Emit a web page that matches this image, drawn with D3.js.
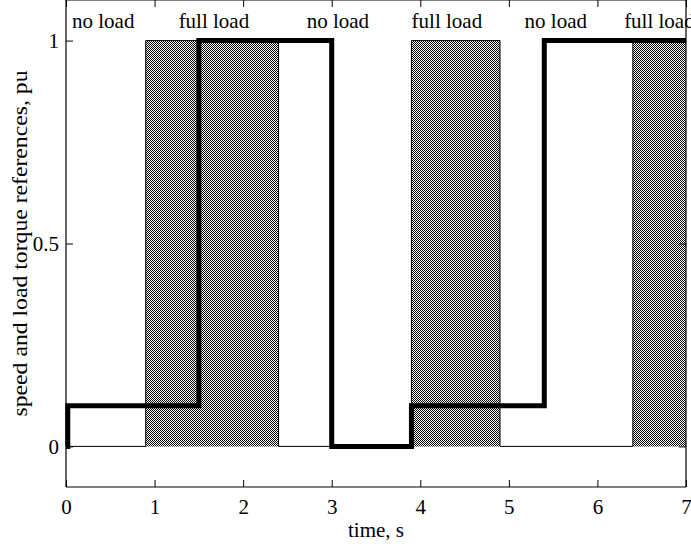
<!DOCTYPE html>
<html><head><meta charset="utf-8">
<script src="https://cdn.jsdelivr.net/npm/d3@7"></script>
<style>body{margin:0;background:#fff}svg{display:block}text{font-family:"Liberation Serif","DejaVu Serif",serif;fill:#000}</style>
</head><body>
<script>
// Data
const loadTimes = [0, 0.9, 2.4, 3.9, 4.9, 6.4, 7];
const loadValues = [0, 1, 0, 1, 0, 1, 1];
const speedTimes = [0, 0.02, 1.5, 3.0, 3.9, 5.4, 7];
const speedValues = [0, 0.1, 1, 0, 0.1, 1, 1];
const labelTexts = ["no load", "full load", "no load", "full load", "no load", "full load"];
const labelTimes = [0.42, 1.67, 3.07, 4.3, 5.53, 6.70];
const xTicks = [0, 1, 2, 3, 4, 5, 6, 7];
const yTicks = [0, 0.5, 1];

const W = 691, H = 548;
const FS = "21px";
const m = {left: 66, right: 5, top: 0, bottom: 61};
const svg = d3.select("body").append("svg").attr("width", W).attr("height", H);
const x = d3.scaleLinear().domain([0, 7]).range([m.left, W - m.right]);
const y = d3.scaleLinear().domain([-0.1, 1.1]).range([H - m.bottom, m.top]);

const defs = svg.append("defs");
const pat = defs.append("pattern").attr("id", "chk").attr("patternUnits", "userSpaceOnUse")
  .attr("width", 2).attr("height", 2);
pat.append("rect").attr("width", 2).attr("height", 2).attr("fill", "#fff");
pat.append("rect").attr("x", 0).attr("y", 0).attr("width", 1).attr("height", 1).attr("fill", "#000");
pat.append("rect").attr("x", 1).attr("y", 1).attr("width", 1).attr("height", 1).attr("fill", "#000");

const loadPts = loadTimes.map((t, i) => [t, loadValues[i]]);
const speedPts = speedTimes.map((t, i) => [t, speedValues[i]]);

const area = d3.area().curve(d3.curveStepAfter).x(d => x(d[0])).y0(y(0)).y1(d => y(d[1]));
svg.append("path").datum(loadPts).attr("d", area).attr("fill", "url(#chk)");
const line = d3.line().curve(d3.curveStepAfter).x(d => x(d[0])).y(d => y(d[1]));
svg.append("path").datum(loadPts).attr("d", line).attr("fill", "none").attr("stroke", "#000").attr("stroke-width", 1);
svg.append("path").datum(speedPts).attr("d", line).attr("fill", "none").attr("stroke", "#000").attr("stroke-width", 5).attr("stroke-linejoin", "miter");

// axes
const tl = 7;
const gB = svg.append("g").attr("transform", `translate(0,${y(-0.1)})`)
  .call(d3.axisBottom(x).tickValues(xTicks).tickSize(-tl).tickPadding(12).tickFormat(d3.format("d")));
const gT = svg.append("g").attr("transform", `translate(0,${y(1.1)})`)
  .call(d3.axisTop(x).tickValues(xTicks).tickSize(-tl).tickFormat(""));
const gL = svg.append("g").attr("transform", `translate(${x(0)},0)`)
  .call(d3.axisLeft(y).tickValues(yTicks).tickSize(-tl).tickPadding(7).tickFormat(d => d === 0.5 ? "0.5" : d3.format("d")(d)));
const gR = svg.append("g").attr("transform", `translate(${x(7)},0)`)
  .call(d3.axisRight(y).tickValues(yTicks).tickSize(-tl).tickFormat(""));
[gB, gT, gL, gR].forEach(g => {
  g.select(".domain").attr("stroke", "#000").attr("stroke-width", 1.2);
  g.selectAll(".tick line").attr("stroke", "#000");
  g.selectAll("text").style("font-family", '"Liberation Serif",serif').style("font-size", FS).attr("fill", "#000");
});
gB.select(".domain").attr("d", `M${x(0)},0H${x(7)}`);
gT.select(".domain").attr("d", `M${x(0)},0H${x(7)}`);
gL.select(".domain").attr("d", `M0,${y(-0.1)}V${y(1.1)}`);
gR.select(".domain").attr("d", `M0,${y(-0.1)}V${y(1.1)}`);

svg.selectAll(".lbl").data(labelTexts).enter().append("text")
  .attr("x", (d, i) => x(labelTimes[i])).attr("y", 28)
  .attr("text-anchor", "middle").style("font-size", FS).text(d => d);

svg.append("text").attr("x", x(3.5)).attr("y", 537).attr("text-anchor", "middle")
  .style("font-size", FS).text("time, s");
svg.append("text").attr("transform", `translate(27,${y(0.5)}) rotate(-90)`)
  .attr("text-anchor", "middle").style("font-size", "22px")
  .attr("textLength", 346).attr("lengthAdjust", "spacingAndGlyphs")
  .text("speed and load torque references, pu");
</script>
</body></html>
